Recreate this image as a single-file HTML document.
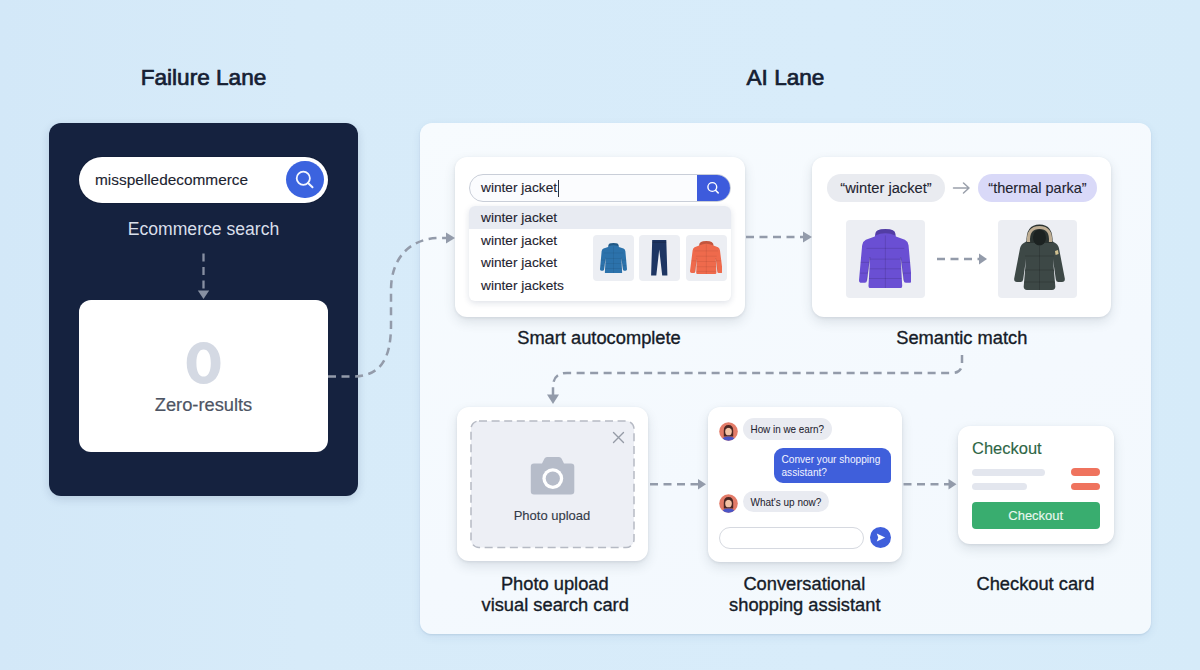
<!DOCTYPE html>
<html><head><meta charset="utf-8">
<style>
*{margin:0;padding:0;box-sizing:border-box}
html,body{width:1200px;height:670px;overflow:hidden}
body{position:relative;font-family:"Liberation Sans",sans-serif;background:linear-gradient(90deg,#d3e8f8 0%,#d7ebf9 25%,#d8ecfa 70%,#d6ebf9 100%);color:#1b2230}
.a{position:absolute}
.t{position:absolute;white-space:nowrap;text-align:center;-webkit-text-stroke:0.12px currentColor}
.lbl{-webkit-text-stroke:0.35px currentColor}
.h{font-weight:normal;font-size:22.6px;line-height:30px;color:#152033;width:300px;-webkit-text-stroke:0.7px currentColor}
.lbl{font-size:18.3px;line-height:21px;color:#161c28;width:300px}
.card{position:absolute;background:#fff;border-radius:12px;box-shadow:0 5px 12px rgba(50,60,80,.13),0 1px 3px rgba(50,60,80,.10)}
svg.ov{position:absolute;left:0;top:0;width:1200px;height:670px}
</style></head><body>

<svg width="0" height="0" style="position:absolute">
<defs>
<symbol id="jk" viewBox="0 0 100 110" preserveAspectRatio="none">
<path d="M31,9 Q31,0 50,0 Q69,0 69,9 L70,14 L87,20 Q93,23 94,30 L100,95 Q100,100 95,100 L89,100 Q85,100 85,96 L79,52 L82,106 Q82,110 78,110 L22,110 Q18,110 18,106 L21,52 L15,96 Q15,100 11,100 L5,100 Q0,100 0,95 L6,30 Q7,23 13,20 L30,14 Z" fill="currentColor"/>
<path d="M31,9 Q31,0 50,0 Q69,0 69,9 L69,12 Q50,4 31,12 Z" fill="#000" fill-opacity=".22"/>
<g stroke="#000" stroke-opacity=".13" stroke-width="1.8" fill="none"><path d="M14,36 L86,36 M20,56 L80,56 M20,74 L80,74 M19,92 L81,92 M50,12 L50,110 M3,62 L19,62 M81,62 L97,62 M2,82 L16,82 M84,82 L98,82"/></g>
<path d="M21,52 L15,96 M79,52 L85,96" stroke="#000" stroke-opacity=".2" stroke-width="1.5" fill="none"/>
</symbol>
<symbol id="hd" viewBox="0 0 100 100" preserveAspectRatio="none">
<path d="M28,14 Q27,0 50,0 Q73,0 72,14 L86,19 Q91,22 92,29 L100,92 Q100,97 95,97 L88,97 Q84,97 84,93 L79,52 L81,96 Q81,100 77,100 L23,100 Q19,100 19,96 L21,52 L16,93 Q16,97 12,97 L5,97 Q0,97 0,92 L8,29 Q9,22 14,19 Z" fill="currentColor"/>
<path d="M28,14 Q27,0 50,0 Q73,0 72,14 Q60,8 50,8 Q40,8 28,14 Z" fill="#000" fill-opacity=".18"/>
<g stroke="#000" stroke-opacity=".12" stroke-width="1.8" fill="none"><path d="M14,30 L86,30 M18,46 L82,46 M20,62 L80,62 M20,78 L80,78 M20,92 L80,92 M50,10 L50,100 M4,60 L19,60 M81,60 L96,60"/></g>
<path d="M21,52 L16,93 M79,52 L84,93" stroke="#000" stroke-opacity=".18" stroke-width="1.5" fill="none"/>
</symbol>
</defs></svg>
<!-- headings -->
<div class="t h" style="left:53.5px;top:63px">Failure Lane</div>
<div class="t h" style="left:635.5px;top:63px">AI Lane</div>

<!-- dark panel -->
<div class="a" style="left:49px;top:123px;width:309px;height:373px;background:#15223f;border-radius:12px;box-shadow:0 3px 10px rgba(20,40,80,.15)"></div>
<div class="a" style="left:79px;top:156.5px;width:249px;height:46px;background:#fff;border-radius:23px;box-shadow:0 0 0 1px rgba(10,20,40,.25)"></div>
<div class="t" style="left:95px;top:170px;font-size:15.4px;line-height:20px;color:#1c2330;text-align:left">misspelledecommerce</div>
<div class="a" style="left:286px;top:160.6px;width:37.8px;height:37.8px;background:#3b63df;border-radius:50%"></div>
<svg class="a" style="left:286px;top:160.6px" width="38" height="38" viewBox="0 0 38 38"><circle cx="17.3" cy="17.3" r="6.6" fill="none" stroke="#f4f7ff" stroke-width="1.8"/><line x1="22" y1="22" x2="26.5" y2="26.3" stroke="#f4f7ff" stroke-width="2" stroke-linecap="round"/></svg>
<div class="t lbl" style="left:53.5px;top:219px;font-size:17.6px;color:#d9dfea;-webkit-text-stroke:0px">Ecommerce search</div>

<div class="a" style="left:79px;top:300px;width:249px;height:152px;background:#fff;border-radius:12px"></div>
<svg class="a" style="left:180px;top:338px" width="48" height="50" viewBox="180 338 48 50"><path fill-rule="evenodd" fill="#d4d9e3" d="M203.6,342 C213.5,342 220.5,350 220.5,363 C220.5,376 213.5,384 203.6,384 C193.7,384 186.7,376 186.7,363 C186.7,350 193.7,342 203.6,342 Z M203.6,349.4 C199.2,349.4 196.4,354 196.4,363 C196.4,372 199.2,376.6 203.6,376.6 C208,376.6 210.8,372 210.8,363 C210.8,354 208,349.4 203.6,349.4 Z"/></svg>
<div class="t lbl" style="left:53.5px;top:394px;color:#4d5463;-webkit-text-stroke:0.2px currentColor">Zero-results</div>

<!-- AI panel -->
<div class="a" style="left:420px;top:123px;width:731px;height:511px;background:linear-gradient(160deg,#f7fbfe 0%,#f4f9fe 60%,#f3f9fd 100%);border-radius:12px;box-shadow:0 1px 2px rgba(60,100,140,.14),0 3px 10px rgba(40,80,130,.08)"></div>

<!-- card 1 autocomplete -->
<div class="card" style="left:455px;top:157px;width:290px;height:159.5px"></div>
<div class="a" style="left:469px;top:174px;width:262px;height:28px;border:1.3px solid #c9ced8;border-radius:14px;background:#fbfcfe;overflow:hidden"><div class="a" style="right:0;top:0;width:33px;height:28px;background:#3d5bdc"></div></div>
<svg class="a" style="left:697px;top:174px" width="34" height="28"><circle cx="15.3" cy="13" r="4.4" fill="none" stroke="#fff" stroke-width="1.4"/><line x1="18.5" y1="16.2" x2="21.2" y2="18.9" stroke="#fff" stroke-width="1.5" stroke-linecap="round"/></svg>
<div class="t" style="left:481px;top:178px;font-size:13.7px;line-height:20px;color:#1f2430;text-align:left">winter jacket</div>
<div class="a" style="left:558px;top:180px;width:1.2px;height:17px;background:#2a3140"></div>
<div class="a" style="left:469px;top:206px;width:262px;height:95px;background:#fff;border-radius:6px;box-shadow:0 2px 6px rgba(30,50,90,.14);overflow:hidden">
 <div class="a" style="left:0;top:0;width:262px;height:23px;background:#e8ebf2"></div>
</div>
<div class="t" style="left:481px;top:207.5px;font-size:13.7px;line-height:20px;color:#1f2430;text-align:left">winter jacket</div>
<div class="t" style="left:481px;top:230.5px;font-size:13.7px;line-height:20px;color:#1f2430;text-align:left">winter jacket</div>
<div class="t" style="left:481px;top:253px;font-size:13.7px;line-height:20px;color:#1f2430;text-align:left">winter jacket</div>
<div class="t" style="left:481px;top:276px;font-size:13.7px;line-height:20px;color:#1f2430;text-align:left">winter jackets</div>
<div class="a" style="left:593px;top:235px;width:41px;height:46px;background:#eceef3;border-radius:4px"></div>
<div class="a" style="left:639px;top:235px;width:41px;height:46px;background:#eceef3;border-radius:4px"></div>
<div class="a" style="left:686px;top:235px;width:41px;height:46px;background:#eceef3;border-radius:4px"></div>
<svg class="a" style="left:600px;top:242.5px;color:#2c72ab" width="27" height="30.5"><use href="#jk" width="27" height="30.5"/></svg>
<svg class="a" style="left:651.3px;top:240.2px" width="16.5" height="35.6" viewBox="0 0 16.5 35.6"><path d="M1.2,0 L15.3,0 L16.4,35.6 L11.2,35.6 L8.25,9.5 L5.3,35.6 L0.1,35.6 Z" fill="#1d3562"/><path d="M1.2,2.2 L15.3,2.2" stroke="#000" stroke-opacity=".25" stroke-width=".8"/></svg>
<svg class="a" style="left:689.8px;top:241.3px;color:#ef6a4c" width="32.6" height="33"><use href="#hd" width="32.6" height="33"/></svg>
<div class="t lbl" style="left:449px;top:327px">Smart autocomplete</div>

<!-- card 2 semantic -->
<div class="card" style="left:812px;top:157px;width:299px;height:160px"></div>
<div class="a" style="left:827px;top:174px;width:118px;height:28px;background:#e9ebf0;border-radius:14px"></div>
<div class="t" style="left:827px;top:178px;width:118px;font-size:14.7px;line-height:20px;color:#1f2430">“winter jacket”</div>
<div class="a" style="left:978px;top:174px;width:119px;height:28px;background:#d9d9f8;border-radius:14px"></div>
<div class="t" style="left:978px;top:178px;width:119px;font-size:14.5px;line-height:20px;color:#1f2430">“thermal parka”</div>
<div class="a" style="left:846px;top:220px;width:79px;height:78px;background:#eceef3;border-radius:4px"></div>
<div class="a" style="left:998px;top:220px;width:79px;height:78px;background:#eceef3;border-radius:4px"></div>
<svg class="a" style="left:858.8px;top:229.3px;color:#6a4fd3" width="52.7" height="59.2"><use href="#jk" width="52.7" height="59.2"/></svg>
<svg class="a" style="left:1005px;top:220px" width="67" height="76" viewBox="0 0 67 76">
<path d="M22,21 L18,23.5 Q15,25.5 14.5,31 L9.2,58.5 Q8.8,62 12,62 L15.5,62 Q17.8,62 18.2,59.5 L21,39 L18.7,66.5 Q18.5,70 22,70 L47,70 Q50.5,70 50.3,66.5 L48,39 L50.8,59.5 Q51.2,62 53.5,62 L57,62 Q60.2,62 59.8,58.5 L54.5,31 Q54,25.5 51,23.5 L47,21 Z" fill="#3d4846"/>
<path d="M21.5,23 Q20.5,4.5 34.5,4.5 Q48.5,4.5 47.5,23 Z" fill="#2b3331"/>
<path d="M23.5,22 Q22.5,7.5 34.5,7.5 Q46.5,7.5 45.5,22" fill="none" stroke="#bfae94" stroke-width="3.2"/>
<ellipse cx="34.5" cy="17.5" rx="6.5" ry="8" fill="#1c2221"/>
<g stroke="#000" stroke-opacity=".2" stroke-width=".8" fill="none"><path d="M34.5,26 L34.5,70 M20,36 L49,36 M19.5,50 L49.5,50 M19,62 L50,62"/></g>
<path d="M50,31 L53,30 L53.6,34 L50.6,35 Z" fill="#d3c291"/>
</svg>
<svg class="a" style="left:950px;top:180px" width="24" height="16" viewBox="0 0 24 16"><path d="M3.5,8 L19,8 M13.5,3 L19,8 L13.5,13" stroke="#9aa0ab" stroke-width="1.5" fill="none" stroke-linecap="round" stroke-linejoin="round"/></svg>
<div class="t lbl" style="left:811.8px;top:327px">Semantic match</div>

<!-- card 3 photo -->
<div class="card" style="left:457px;top:407px;width:191px;height:154px"></div>
<svg class="a" style="left:469px;top:419px" width="167" height="131"><rect x="2" y="2" width="163" height="126.5" rx="8" fill="#edeff5" stroke="#b6bac4" stroke-width="1.5" stroke-dasharray="8 4.6"/></svg>
<svg class="a" style="left:610px;top:429px" width="17" height="17" viewBox="0 0 17 17"><path d="M3.5,3.5 L13.5,13.5 M13.5,3.5 L3.5,13.5" stroke="#959ba6" stroke-width="1.35" stroke-linecap="round"/></svg>
<svg class="a" style="left:528px;top:455px" width="50" height="42" viewBox="0 0 50 42"><path d="M14,8.5 L16.5,3.5 Q17.3,2 19,2 L31,2 Q32.7,2 33.5,3.5 L36,8.5 L43,8.5 Q46.3,8.5 46.3,11.8 L46.3,36.3 Q46.3,39.5 43,39.5 L6,39.5 Q2.8,39.5 2.8,36.3 L2.8,11.8 Q2.8,8.5 6,8.5 Z" fill="#b6bcc9"/><circle cx="24.8" cy="23.6" r="10.4" fill="#fff"/><circle cx="24.8" cy="23.6" r="7.1" fill="#b6bcc9"/></svg>
<div class="t" style="left:452px;top:505.5px;width:200px;font-size:13px;line-height:20px;color:#343b48">Photo upload</div>
<div class="t lbl" style="left:404.8px;top:573px">Photo upload</div>
<div class="t lbl" style="left:405.2px;top:594px">visual search card</div>

<!-- card 4 chat -->
<div class="card" style="left:708px;top:407px;width:194px;height:155px"></div>
<svg class="a" style="left:719px;top:421.5px" width="19" height="19" viewBox="0 0 19 19"><defs><clipPath id="av1"><circle cx="9.5" cy="9.5" r="9.3"/></clipPath></defs><g clip-path="url(#av1)"><rect width="19" height="19" fill="#e37b68"/><path d="M4.8,14.5 L4.8,8.5 Q4.8,3 9.5,3 Q14.2,3 14.2,8.5 L14.2,14.5 Z" fill="#4a2623"/><ellipse cx="9.5" cy="9.4" rx="3.3" ry="3.9" fill="#f2c2a4"/><path d="M6.2,7.5 Q9.5,4.2 12.8,7.5 L12.8,6 Q9.5,3.8 6.2,6 Z" fill="#4a2623"/><path d="M3,19 Q3,14.6 9.5,14.6 Q16,14.6 16,19 Z" fill="#4b55c6"/></g></svg>
<div class="a" style="left:743px;top:418px;width:89px;height:21.5px;background:#e9ebf1;border-radius:11px"></div>
<div class="t" style="left:750.5px;top:422.9px;font-size:9.9px;line-height:13px;color:#1f2430;text-align:left;-webkit-text-stroke:0.05px;transform:scaleY(1.13)">How in we earn?</div>
<div class="a" style="left:774px;top:448px;width:117px;height:34.6px;background:#3f5fdb;border-radius:9px 9px 4px 9px"></div>
<div class="t" style="left:781.5px;top:454.3px;font-size:10.1px;line-height:12px;color:#f2f4ff;text-align:left;-webkit-text-stroke:0px;transform:scaleY(1.1)">Conver your shopping<br>assistant?</div>
<svg class="a" style="left:719px;top:494.3px" width="19" height="19" viewBox="0 0 19 19"><defs><clipPath id="av2"><circle cx="9.5" cy="9.5" r="9.3"/></clipPath></defs><g clip-path="url(#av2)"><rect width="19" height="19" fill="#e37b68"/><path d="M4.8,14.5 L4.8,8.5 Q4.8,3 9.5,3 Q14.2,3 14.2,8.5 L14.2,14.5 Z" fill="#4a2623"/><ellipse cx="9.5" cy="9.4" rx="3.3" ry="3.9" fill="#f2c2a4"/><path d="M6.2,7.5 Q9.5,4.2 12.8,7.5 L12.8,6 Q9.5,3.8 6.2,6 Z" fill="#4a2623"/><path d="M3,19 Q3,14.6 9.5,14.6 Q16,14.6 16,19 Z" fill="#4b55c6"/></g></svg>
<div class="a" style="left:743px;top:491.4px;width:85.6px;height:21px;background:#e9ebf1;border-radius:11px"></div>
<div class="t" style="left:750.5px;top:496.3px;font-size:10px;line-height:13px;color:#1f2430;text-align:left;-webkit-text-stroke:0.05px;transform:scaleY(1.13)">What's up now?</div>
<div class="a" style="left:719.3px;top:526.7px;width:144.4px;height:22.7px;background:#fff;border:1px solid #d6d9e0;border-radius:12px"></div>
<div class="a" style="left:869.7px;top:527.2px;width:21px;height:21px;background:#3f5fdb;border-radius:50%"></div>
<svg class="a" style="left:869.7px;top:527.2px" width="21" height="21" viewBox="0 0 21 21"><path d="M6.8,6.6 L15.2,10.5 L6.8,14.4 L8.2,10.5 Z" fill="#fff"/></svg>
<div class="t lbl" style="left:654.4px;top:573px">Conversational</div>
<div class="t lbl" style="left:654.8px;top:593.5px">shopping assistant</div>

<!-- card 5 checkout -->
<div class="card" style="left:958px;top:426px;width:156px;height:118px"></div>
<div class="t" style="left:972px;top:438px;font-size:16.5px;line-height:20px;color:#2e6646;text-align:left">Checkout</div>
<div class="a" style="left:971.7px;top:468.5px;width:73.4px;height:7.2px;background:#e3e6ee;border-radius:4px"></div>
<div class="a" style="left:971.7px;top:482.5px;width:55.5px;height:7.4px;background:#e3e6ee;border-radius:4px"></div>
<div class="a" style="left:1070.7px;top:468.1px;width:29.1px;height:7.6px;background:#ef735e;border-radius:4px"></div>
<div class="a" style="left:1070.7px;top:482.5px;width:29.1px;height:7.7px;background:#ef735e;border-radius:4px"></div>
<div class="a" style="left:971.7px;top:501.9px;width:128.1px;height:27.4px;background:#39ad6f;border-radius:4px"></div>
<div class="t" style="left:971.7px;top:507.5px;width:128.1px;font-size:13px;line-height:16px;color:#eaf8ef">Checkout</div>
<div class="t lbl" style="left:885.4px;top:572.5px">Checkout card</div>

<!-- connectors -->
<svg class="ov" viewBox="0 0 1200 670">
<path d="M203.5,253.5 L203.5,291" fill="none" stroke="#8790a2" stroke-width="2.3" stroke-dasharray="8 5.5"/>
<g fill="none" stroke="#939baa" stroke-width="2.5" stroke-dasharray="8 5.5">
 <path d="M328,376.5 L352,376.5 C380,376.5 391,360 391,325 L391,290 C391,258 410,238 440,238 L447,238"/>
 <path d="M746,237 L803,237"/>
 <path d="M962,355 L962,363 Q962,373 952,373 L567,373 Q553,373 553,387 L553,396"/>
 <path d="M650,484.3 L699,484.3"/>
 <path d="M903.5,484.3 L949,484.3"/>
 <path d="M937,259 L980,259"/>
</g>
<g fill="#939baa">
 <path d="M197.8,290.5 L209.2,290.5 L203.5,299 Z" fill="#8790a2"/>
 <path d="M446,232.5 L455,238 L446,243.5 Z"/>
 <path d="M803,231.5 L812,237 L803,242.5 Z"/>
 <path d="M547,394.5 L559,394.5 L553,404 Z"/>
 <path d="M698,479 L706,484.3 L698,489.6 Z"/>
 <path d="M948.5,479 L956.5,484.3 L948.5,489.6 Z"/>
 <path d="M979,253.5 L987,259 L979,264.5 Z"/>
</g>
</svg>

</body></html>
